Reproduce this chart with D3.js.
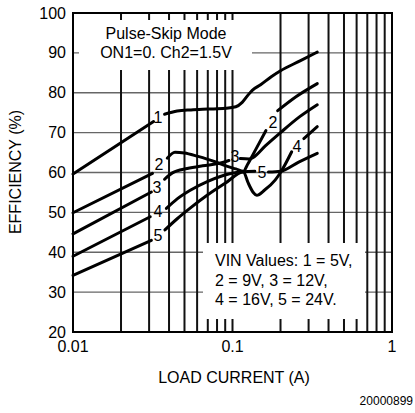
<!DOCTYPE html>
<html>
<head>
<meta charset="utf-8">
<script src="https://cdn.jsdelivr.net/npm/d3@7"></script>
<style>
  html, body { margin: 0; padding: 0; background: #fff; }
  svg { display: block; font-family: "Liberation Sans", Arial, sans-serif; }
</style>
</head>
<body>
<svg id="chart" width="415" height="413"></svg>
<script>
// ---------- data ----------
const xMajorTicks = [0.01, 0.1, 1];
const xMajorLabels = ["0.01", "0.1", "1"];
const xMinorTicks = [0.02, 0.03, 0.04, 0.05, 0.06, 0.07, 0.08, 0.09, 0.2, 0.3, 0.4, 0.5, 0.6, 0.7, 0.8, 0.9];
const yTicks = [20, 30, 40, 50, 60, 70, 80, 90, 100];

const curve1 = [[0.01,59.6],[0.032,72.8],null,[0.0375,74.6],[0.045,75.4],[0.055,75.7],[0.07,75.9],[0.09,76.1],[0.105,76.5],[0.115,77.6],[0.125,79.4],[0.133,80.6],[0.15,82],[0.175,84],[0.2,85.5],[0.265,88],[0.34,90.2]];
const curve2 = [[0.01,49.9],[0.0315,59.8],null,[0.039,63.6],[0.0436,65.1],[0.05,64.9],[0.06,64.1],[0.07,63.3],[0.08,62.5],[0.092,61.6],[0.105,60.9],[0.117,60.3],[0.125,62.2],[0.14,65.8],[0.162,70.5],null,[0.192,75.5],[0.25,79],[0.34,82.3]];
const curve3 = [[0.01,44.6],[0.031,55.1],null,[0.0375,58.3],[0.042,59.9],[0.052,61],[0.065,61.7],[0.083,62.3],[0.095,63],null,[0.112,63.5],[0.127,63.4],[0.135,63.8],[0.16,66.6],[0.2,70],[0.264,74],[0.34,77]];
const curve4 = [[0.01,39],[0.0305,48.9],null,[0.0385,51],[0.045,53.4],[0.054,55.5],[0.07,57.8],[0.096,59.7],[0.117,60.2],[0.125,57.5],[0.135,55],[0.142,54.3],[0.159,55.6],[0.185,58.1],[0.2,60],[0.235,65.2],null,[0.28,68.5],[0.34,71.5]];
const curve5 = [[0.01,34.2],[0.031,43],null,[0.0377,45.6],[0.045,48.4],[0.054,51],[0.07,54.4],[0.09,57.3],[0.117,60.2],[0.138,60.3],null,[0.168,60.1],[0.2,60.3],[0.26,62.6],[0.34,64.8]];
const curves = [curve1, curve2, curve3, curve4, curve5];

const labelText = ["1", "2", "3", "4", "5", "3", "5", "2", "4"];
const labelX = [0.0341, 0.0346, 0.0336, 0.0341, 0.0341, 0.1037, 0.153, 0.179, 0.254];
const labelY = [73.9, 61.9, 56.3, 50.3, 44.3, 63.9, 60.1, 72.6, 66.6];

const titleLines = ["Pulse-Skip Mode", "ON1=0. Ch2=1.5V"];
const legendLines = ["VIN Values: 1 = 5V,", "2 = 9V, 3 = 12V,", "4 = 16V, 5 = 24V."];
const xTitle = "LOAD CURRENT (A)";
const yTitle = "EFFICIENCY (%)";
const figId = "20000899";

// ---------- drawing ----------
const svg = d3.select("#chart");
const L = 73, R = 392, T = 13, B = 332;
const x = d3.scaleLog().domain([0.01, 1]).range([L, R]);
const y = d3.scaleLinear().domain([20, 100]).range([B, T]);
const FS = 16;

// horizontal grid
svg.append("g").selectAll("line").data(yTicks.slice(1, -1)).join("line")
  .attr("x1", L).attr("x2", R).attr("y1", d => y(d)).attr("y2", d => y(d))
  .attr("stroke", "#666").attr("stroke-width", 1.3);

// vertical grid
svg.append("g").selectAll("line").data(xMinorTicks.concat([0.1])).join("line")
  .attr("x1", d => x(d)).attr("x2", d => x(d)).attr("y1", T).attr("y2", B)
  .attr("stroke", "#111").attr("stroke-width", 2);

// white boxes (title and legend)
svg.append("rect").attr("x", 79).attr("y", 20).attr("width", 252 - 79).attr("height", 70 - 20).attr("fill", "#fff");
svg.append("rect").attr("x", 203).attr("y", 243).attr("width", 365 - 203).attr("height", 319 - 243).attr("fill", "#fff");

// border
svg.append("rect").attr("x", L).attr("y", T).attr("width", R - L).attr("height", B - T)
  .attr("fill", "none").attr("stroke", "#000").attr("stroke-width", 2);

// curves
const line = d3.line().defined(d => d !== null)
  .x(d => x(d[0])).y(d => y(d[1])).curve(d3.curveMonotoneX);
svg.append("g").selectAll("path").data(curves).join("path")
  .attr("d", line).attr("fill", "none").attr("stroke", "#000")
  .attr("stroke-width", 3).attr("stroke-linecap", "round").attr("stroke-linejoin", "round");

// curve labels
svg.append("g").selectAll("text").data(labelText).join("text")
  .attr("x", (d, i) => x(labelX[i])).attr("y", (d, i) => y(labelY[i]))
  .attr("text-anchor", "middle").attr("dominant-baseline", "central")
  .attr("font-size", FS).text(d => d);

// y tick labels
svg.append("g").selectAll("text").data(yTicks).join("text")
  .attr("x", 66).attr("y", d => y(d)).attr("text-anchor", "end")
  .attr("dominant-baseline", "central").attr("font-size", FS).text(d => d);

// x tick labels
svg.append("g").selectAll("text").data(xMajorTicks).join("text")
  .attr("x", d => x(d)).attr("y", 352).attr("text-anchor", "middle")
  .attr("font-size", FS).text((d, i) => xMajorLabels[i]);

// title box text
svg.append("g").selectAll("text").data(titleLines).join("text")
  .attr("x", 166).attr("y", (d, i) => 39 + i * 19).attr("text-anchor", "middle")
  .attr("font-size", FS).text(d => d);

// legend text
svg.append("g").selectAll("text").data(legendLines).join("text")
  .attr("x", 215).attr("y", (d, i) => 266 + i * 19.5)
  .attr("font-size", FS).text(d => d);

// axis titles
svg.append("text").attr("x", 234).attr("y", 383).attr("text-anchor", "middle")
  .attr("font-size", FS).text(xTitle);
svg.append("text").attr("transform", "translate(21,172) rotate(-90)")
  .attr("text-anchor", "middle").attr("font-size", FS).text(yTitle);

svg.append("text").attr("x", 413).attr("y", 405).attr("text-anchor", "end")
  .attr("font-size", 12).text(figId);
</script>
</body>
</html>
